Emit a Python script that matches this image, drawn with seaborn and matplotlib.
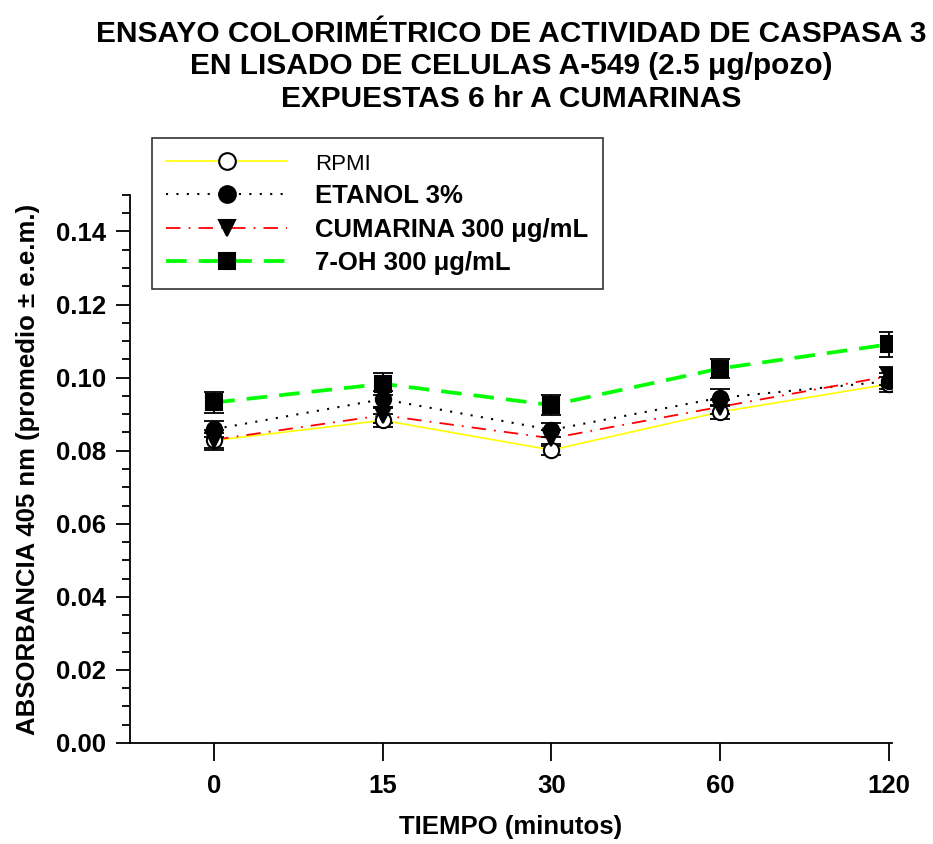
import matplotlib
matplotlib.use("Agg")
import matplotlib.pyplot as plt
from matplotlib.lines import Line2D
from matplotlib.ticker import MultipleLocator
import seaborn as sns
import numpy as np
import pandas as pd

times = ["0", "15", "30", "60", "120"]
rpmi = [0.0828, 0.0883, 0.0802, 0.0906, 0.0982]
rpmi_err = [0.0020, 0.0018, 0.0015, 0.0018, 0.0020]
etanol = [0.0859, 0.0941, 0.0857, 0.0945, 0.0990]
etanol_err = [0.0022, 0.0022, 0.0020, 0.0024, 0.0022]
cumarina = [0.0830, 0.0897, 0.0834, 0.0920, 0.1004]
cumarina_err = [0.0027, 0.0020, 0.0022, 0.0020, 0.0025]
oh7 = [0.0932, 0.0983, 0.0925, 0.1025, 0.1091]
oh7_err = [0.0030, 0.0030, 0.0027, 0.0025, 0.0035]
labels = ["RPMI", "ETANOL 3%", "CUMARINA 300 μg/mL", "7-OH 300 μg/mL"]

sns.set_theme(style="ticks")
plt.rcParams['font.family'] = ['Liberation Sans', 'DejaVu Sans']
for k in ["text.color", "axes.labelcolor", "xtick.color", "ytick.color", "axes.edgecolor"]:
    plt.rcParams[k] = "black"

fig = plt.figure(figsize=(9.33, 8.44), dpi=100)
ax = fig.add_axes([0.1393, 0.1197, 0.8167, 0.6493])

pos = np.arange(len(times))
series = [
    (rpmi, rpmi_err, dict(color="#ffff00", linestyle="-", lw=1.2, marker="o",
                           mfc="white", mec="black", ms=11)),
    (etanol, etanol_err, dict(color="black", linestyle=(0, (1, 4)), lw=1.5, marker="o",
                               mfc="black", mec="black", ms=11)),
    (cumarina, cumarina_err, dict(color="#ff0000", linestyle=(0, (8, 4.5, 1, 4.5)), lw=1.3, marker="v",
                                   mfc="black", mec="black", ms=11)),
    (oh7, oh7_err, dict(color="#00ff00", linestyle=(0, (5.5, 3.2)), lw=2.7, marker="s",
                         mfc="black", mec="black", ms=11)),
]

handles = []
for i, (vals, errs, st) in enumerate(series):
    df = pd.DataFrame({"x": pos, "y": vals})
    sns.lineplot(data=df, x="x", y="y", ax=ax, color=st["color"], linestyle=st["linestyle"],
                 linewidth=st["lw"], zorder=2 + i * 0.1)
    ax.errorbar(pos, vals, yerr=errs, fmt="none", ecolor="black", elinewidth=1.3,
                capsize=7, capthick=1.3, zorder=5)
    ax.plot(pos, vals, linestyle="none", marker=st["marker"], markerfacecolor=st["mfc"],
            markeredgecolor=st["mec"], markersize=st["ms"], markeredgewidth=1.5, zorder=6)
    handles.append(Line2D([], [], color=st["color"], linestyle=st["linestyle"], lw=st["lw"],
                          marker=st["marker"], markerfacecolor=st["mfc"], markeredgecolor=st["mec"],
                          markersize=12, markeredgewidth=1.5))

ax.set_xlim(-0.5, 4.02)
ax.set_ylim(0, 0.15)
ax.set_xticks(pos)
ax.set_xticklabels(times)
yt = np.arange(0, 0.141, 0.02)
ax.set_yticks(yt)
ax.set_yticklabels([f"{v:.2f}" for v in yt])
ax.yaxis.set_minor_locator(MultipleLocator(0.005))
for s in ["top", "right"]:
    ax.spines[s].set_visible(False)
for s in ["left", "bottom"]:
    ax.spines[s].set_linewidth(1.3)
    ax.spines[s].set_color("black")
ax.tick_params(axis="y", which="major", length=10, width=1.3, direction="out", labelsize=18.5, pad=7)
ax.tick_params(axis="y", which="minor", length=6, width=1.3, direction="out")
ax.tick_params(axis="x", which="major", length=13, width=1.3, direction="out", labelsize=18.5, pad=9)
for t in ax.get_xticklabels() + ax.get_yticklabels():
    t.set_fontweight("bold")

ax.set_xlabel("TIEMPO (minutos)", fontsize=18.5, fontweight="bold")
ax.set_ylabel("ABSORBANCIA 405 nm (promedio ± e.e.m.)", fontsize=18.5, fontweight="bold")
ax.xaxis.set_label_coords(0.5, -0.132)
ax.yaxis.set_label_coords(-0.118, 0.5)

fig.text(0.548, 1 - 20 / 844,
         "ENSAYO COLORIMÉTRICO DE ACTIVIDAD DE CASPASA 3\nEN LISADO DE CELULAS A-549 (2.5 μg/pozo)\nEXPUESTAS 6 hr A CUMARINAS",
         ha="center", va="top", fontsize=21.5, fontweight="bold", linespacing=1.2)

leg = ax.legend(handles, labels, loc="upper left", bbox_to_anchor=(0.029, 1.104), borderaxespad=0,
                handlelength=4.7, handletextpad=1.1, fontsize=18.5, frameon=True, fancybox=False,
                edgecolor="black", borderpad=0.55, labelspacing=0.36, numpoints=1)
leg.get_frame().set_linewidth(1.2)
for i, t in enumerate(leg.get_texts()):
    if i == 0:
        t.set_fontsize(16)
    else:
        t.set_fontweight("bold")

fig.savefig("out.png", dpi=100, facecolor="white")
